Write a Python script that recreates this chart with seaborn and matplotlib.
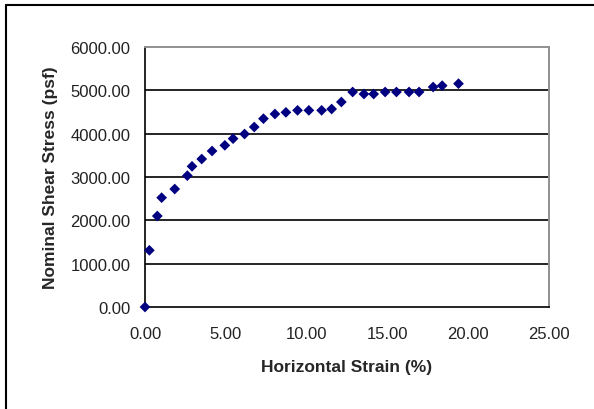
import matplotlib
matplotlib.use("Agg")
import matplotlib.pyplot as plt
import seaborn as sns
import pandas as pd
from matplotlib.lines import Line2D

# strain (%) and stress (psf)
strain = [0.00, 0.27, 0.76, 1.03, 1.84, 2.62, 2.91, 3.51, 4.15, 4.94, 5.45,
          6.16, 6.76, 7.33, 8.04, 8.72, 9.44, 10.14, 10.93, 11.55, 12.15,
          12.85, 13.55, 14.15, 14.86, 15.56, 16.34, 16.96, 17.83, 18.39, 19.40]
stress = [0, 1308, 2100, 2523, 2723, 3031, 3246, 3415, 3600, 3731, 3885,
          3992, 4154, 4346, 4454, 4492, 4538, 4538, 4538, 4569, 4731,
          4962, 4915, 4915, 4962, 4962, 4962, 4962, 5077, 5108, 5154]

x_ticks = [0, 5, 10, 15, 20, 25]
y_ticks = [0, 1000, 2000, 3000, 4000, 5000, 6000]

df = pd.DataFrame({"strain": strain, "stress": stress})

sns.set_style("white")
plt.rcParams["font.family"] = ["Liberation Sans", "DejaVu Sans"]

fig = plt.figure(figsize=(5.94, 4.10), dpi=100)
ax = fig.add_axes([145 / 594, 1 - 308 / 410, 404 / 594, 260 / 410])

# horizontal gridlines like Excel
for yv in y_ticks[1:-1]:
    ax.axhline(yv, color="black", lw=1.2, zorder=0)

sns.scatterplot(data=df, x="strain", y="stress", marker="D", s=30,
                color="#000080", edgecolor="none", ax=ax, zorder=3, clip_on=False)

ax.set_xlim(0, 25)
ax.set_ylim(0, 6000)
ax.set_xticks(x_ticks)
ax.set_yticks(y_ticks)
ax.set_xticklabels([f"{v:.2f}" for v in x_ticks], fontsize=12, color="#222222")
ax.set_yticklabels([f"{v:.2f}" for v in y_ticks], fontsize=12, color="#222222")
ax.tick_params(direction="out", length=2.5, width=1.2, color="black", pad=8)
ax.tick_params(axis="x", pad=11)

for side in ["top", "right"]:
    ax.spines[side].set_color("#909090")
    ax.spines[side].set_linewidth(1.4)
for side in ["left", "bottom"]:
    ax.spines[side].set_color("black")
    ax.spines[side].set_linewidth(1.2)

ax.set_xlabel("Horizontal Strain (%)", fontsize=12.5, fontweight="bold", labelpad=13)
ax.set_ylabel("Nominal Shear Stress (psf)", fontsize=12.5, fontweight="bold", labelpad=9)

# outer chart border (only top and left edges visible, rest cropped)
fig.lines.append(Line2D([6 / 594, 6 / 594], [0, 1 - 6 / 410], transform=fig.transFigure,
                        color="black", lw=1.5))
fig.lines.append(Line2D([6 / 594, 1], [1 - 6 / 410, 1 - 6 / 410], transform=fig.transFigure,
                        color="black", lw=1.5))

fig.savefig("out.png", dpi=100)
